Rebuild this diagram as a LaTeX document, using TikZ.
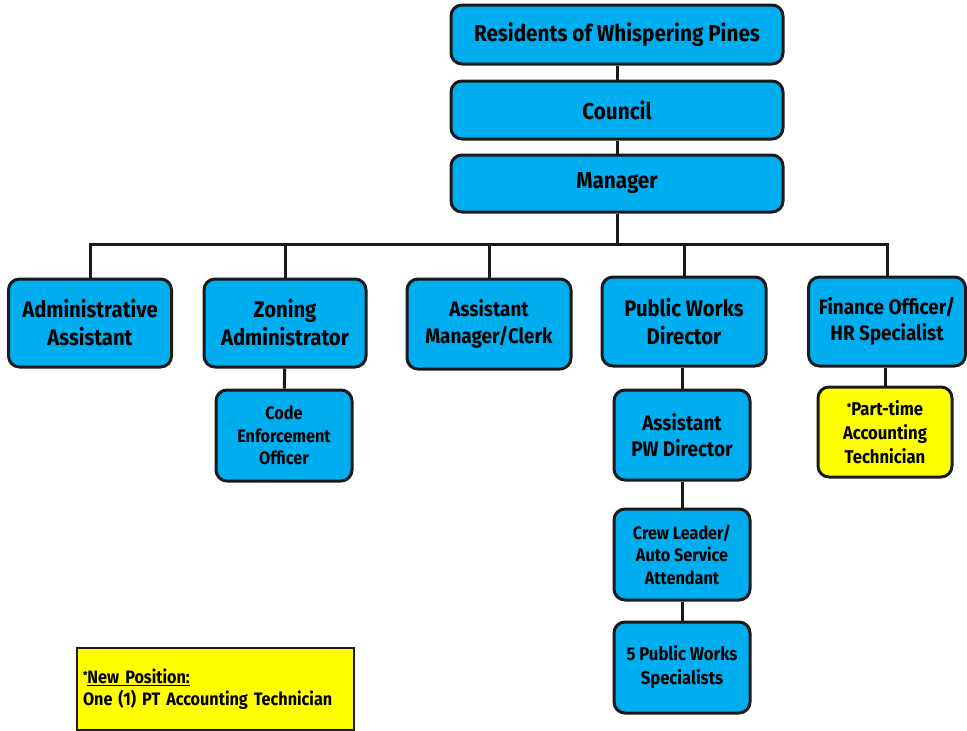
\documentclass[tikz,border=0pt]{standalone}
\usepackage{fontspec}
\setmainfont{Fira Sans}
\newfontfamily\orgfont{Fira Sans}[FakeStretch=0.9]
\definecolor{orgblue}{HTML}{00AEEF}
\definecolor{orgyellow}{HTML}{FFFF00}
\definecolor{orgline}{HTML}{1A1A1A}
\tikzset{
  box/.style={draw=orgline, line width=3pt, rounded corners=11pt, fill=orgblue, align=center, inner sep=0pt, text=black},
  ybox/.style={box, fill=orgyellow},
  big/.style={font=\orgfont\bfseries\fontsize{23}{26}\selectfont},
  mid/.style={font=\orgfont\bfseries\fontsize{22.5}{28}\selectfont},
  mdb/.style={font=\orgfont\bfseries\fontsize{21}{26.5}\selectfont},
  sml/.style={font=\orgfont\bfseries\fontsize{18}{22.5}\selectfont},
  msm/.style={font=\orgfont\bfseries\fontsize{18.5}{24}\selectfont},
  link/.style={draw=orgline, line width=3pt},
}
\newcommand{\smallstar}{{\fontsize{11}{11}\selectfont\raisebox{4pt}{*}}}
\begin{document}
\begin{tikzpicture}[x=1pt,y=-1pt]
\useasboundingbox (0,0) rectangle (967,731);
% top chain
\node[box,big,minimum width=332pt,minimum height=59pt] (res) at (617,34.5) {Residents of Whispering Pines};
\node[box,big,minimum width=332pt,minimum height=58pt] (council) at (617,110) {Council};
\node[box,big,minimum width=332pt,minimum height=57pt] (manager) at (617,183.5) {Manager};
\coordinate (bus) at (617,244);
% second row
\node[box,mid,minimum width=163pt,minimum height=88pt] (admin) at (90,323) {Administrative\\Assistant};
\node[box,mid,minimum width=162pt,minimum height=88pt] (zoning) at (285,323) {Zoning\\Administrator};
\node[box,mdb,minimum width=164pt,minimum height=90pt] (asst) at (489,324) {Assistant\\Manager/Clerk};
\node[box,mid,minimum width=164pt,minimum height=89pt] (pwd) at (684,321.5) {Public Works\\Director};
\node[box,mdb,minimum width=157pt,minimum height=89pt] (fin) at (887,321.5) {Finance Officer/\\HR Specialist};
% lower boxes
\node[box,sml,minimum width=136pt,minimum height=91pt] (code) at (284,435.5) {Code\\Enforcement\\Officer};
\node[box,mdb,minimum width=136pt,minimum height=90pt] (apwd) at (682,435) {Assistant\\PW Director};
\node[ybox,msm,minimum width=134pt,minimum height=90pt] (pt) at (885,432) {\smallstar Part-time\\Accounting\\Technician};
\node[box,sml,minimum width=136pt,minimum height=91pt] (crew) at (682,554.5) {Crew Leader/\\Auto Service\\Attendant};
\node[box,msm,minimum width=136pt,minimum height=91pt] (spec) at (682,667.5) {5 Public Works\\Specialists};
% note
\node[draw=orgline, line width=1.3pt, fill=orgyellow, minimum width=277pt, minimum height=82pt, text width=265pt, align=left, inner sep=6pt, font=\orgfont\bfseries\fontsize{18}{22}\selectfont] (note) at (215.5,689) {\smallstar\underline{New Position:}\\One (1) PT Accounting Technician};
% connectors
\draw[link] (res) -- (council);
\draw[link] (council) -- (manager);
\draw[link] (manager) -- (bus);
\draw[link] (admin.north) |- (bus);
\draw[link] (zoning.north) |- (bus);
\draw[link] (asst.north) |- (bus);
\draw[link] (pwd.north) |- (bus);
\draw[link] (fin.north) |- (bus);
\draw[link] (zoning) -- (code);
\draw[link] (pwd.south -| apwd.north) -- (apwd.north);
\draw[link] (apwd) -- (crew);
\draw[link] (crew) -- (spec);
\draw[link] (fin.south -| pt.north) -- (pt.north);
\end{tikzpicture}
\end{document}
